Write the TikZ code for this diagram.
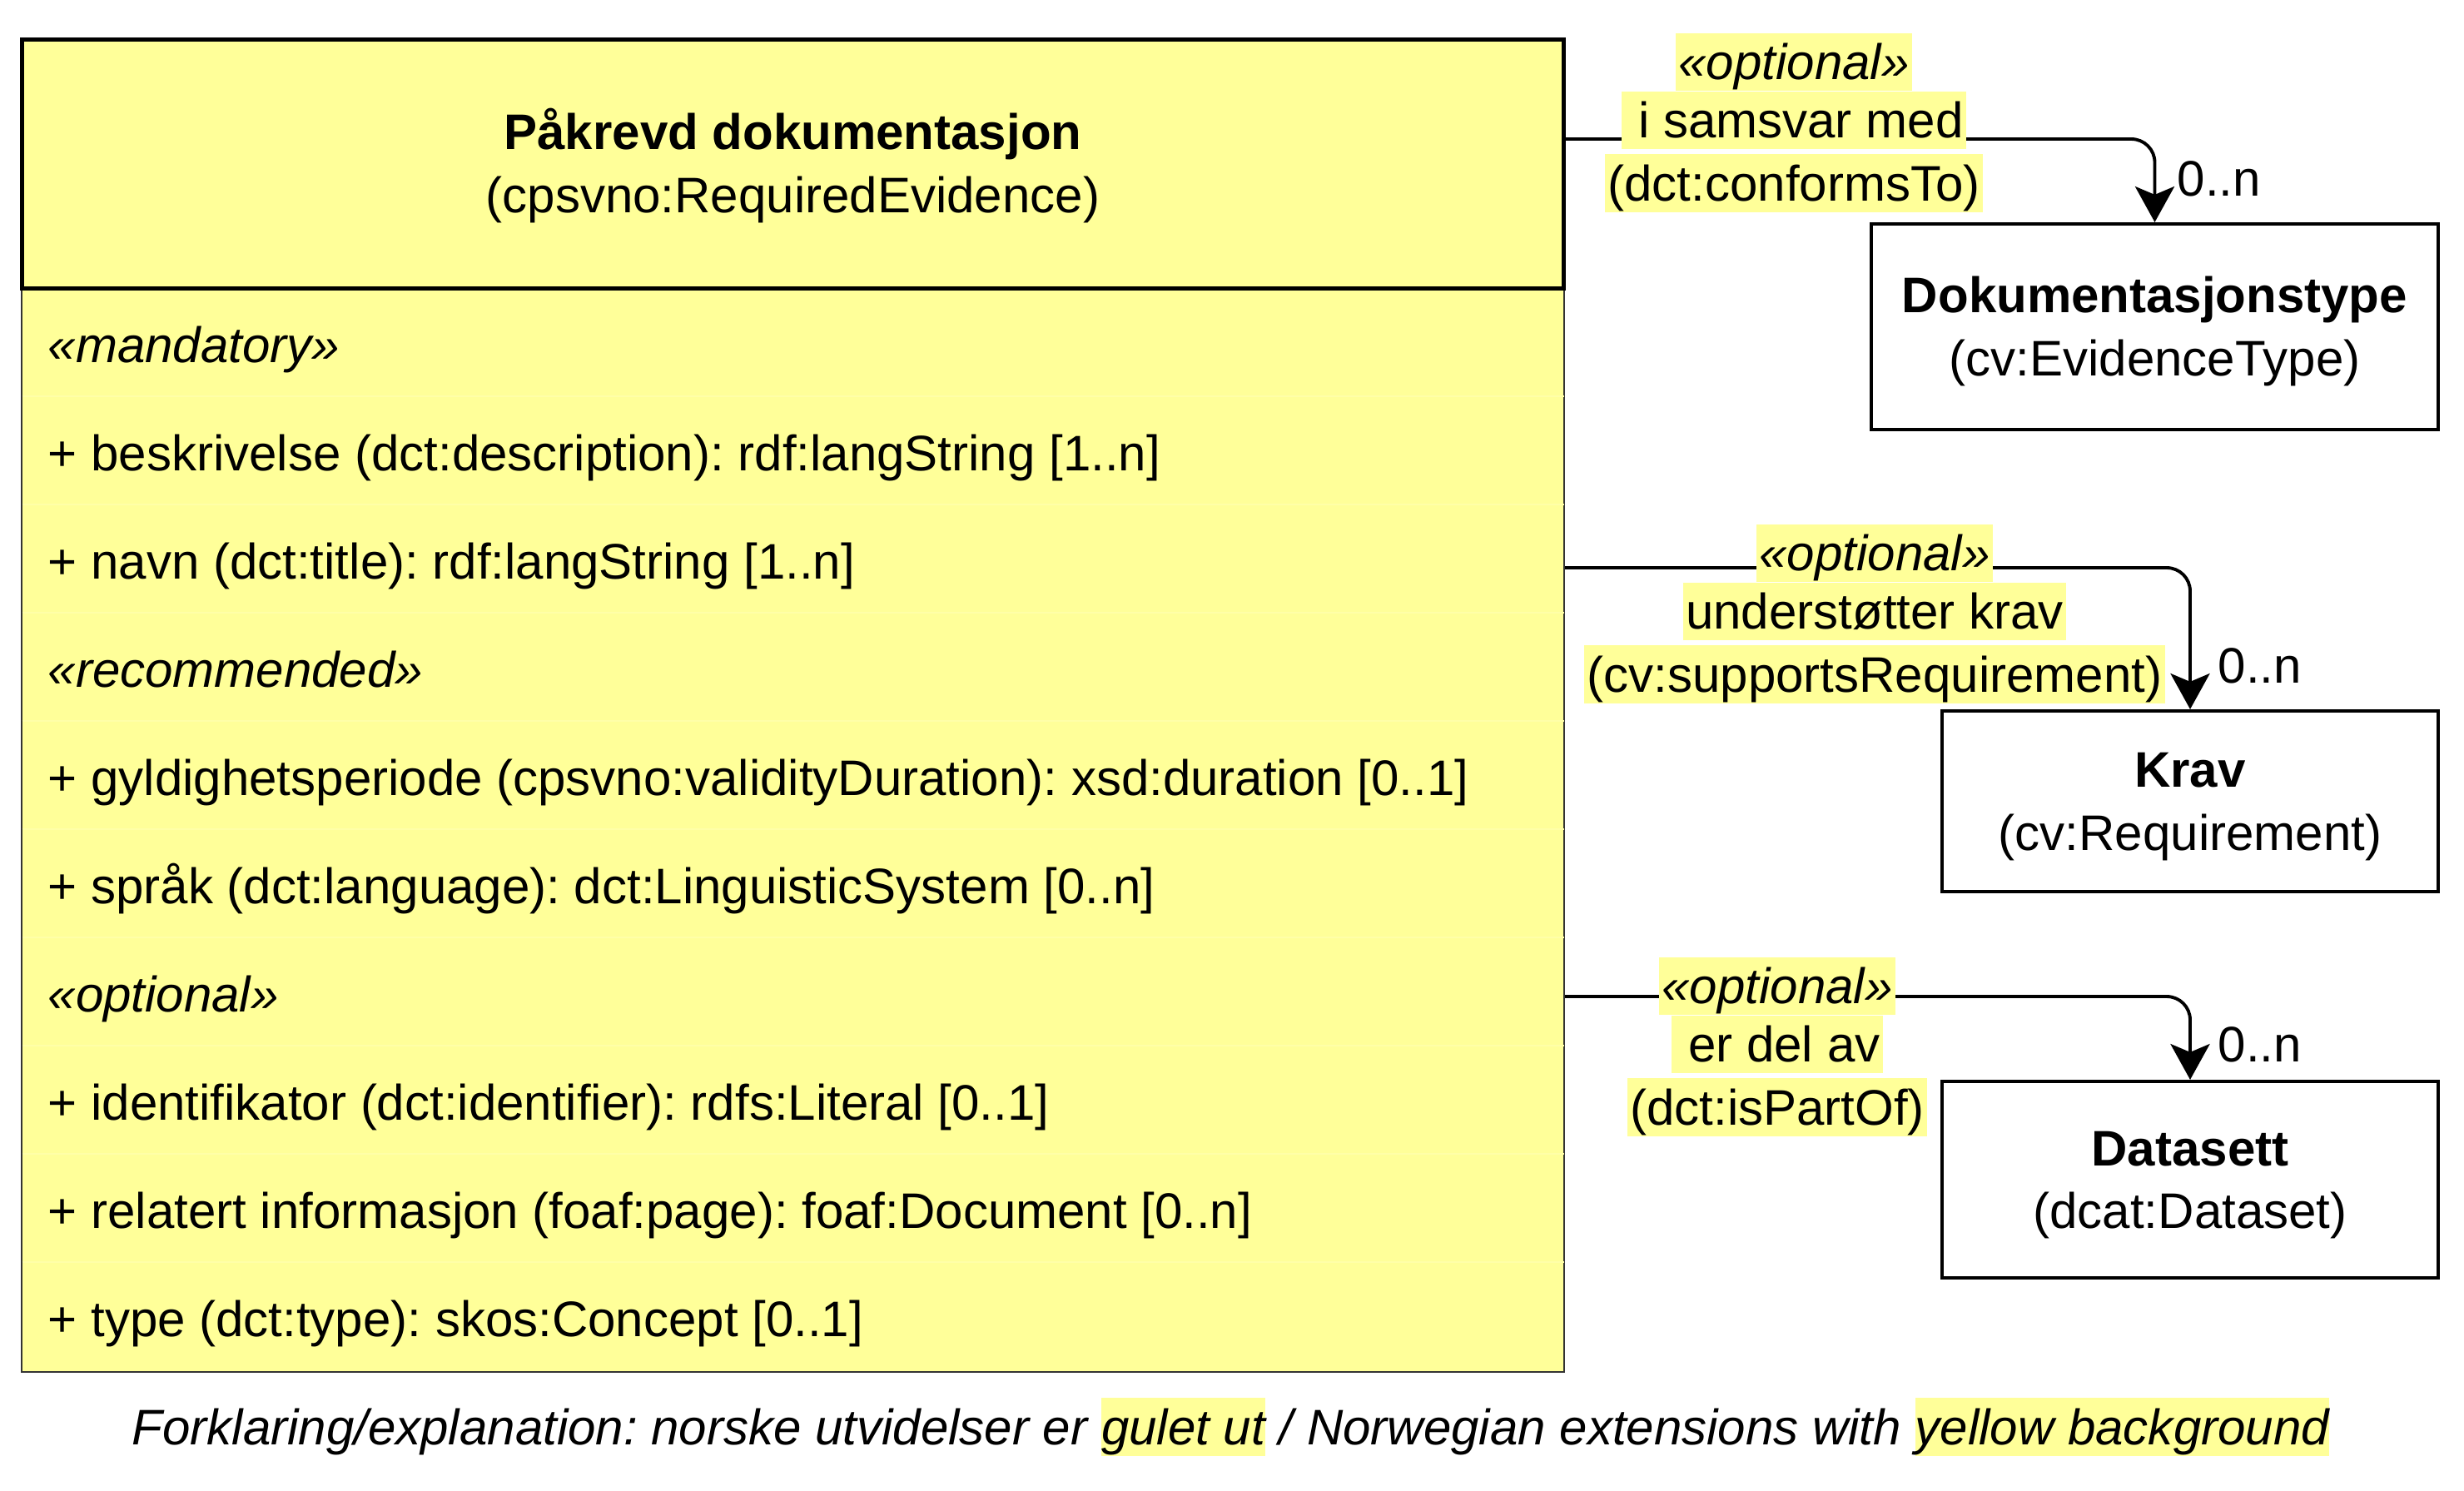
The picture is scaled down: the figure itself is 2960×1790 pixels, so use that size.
\documentclass[tikz,border=0pt]{standalone}
\usepackage{fontspec}
\setmainfont{Liberation Sans}
\usetikzlibrary{arrows.meta}

\definecolor{gulbg}{HTML}{FFFF99}
\newcommand{\gul}[1]{{\setlength{\fboxsep}{0pt}\colorbox{gulbg}{\rule[-3.9pt]{0pt}{19.8pt}#1}}}
\newcommand{\topstrut}{\rule{0pt}{15.45pt}}
\frenchspacing

\begin{document}
\begin{tikzpicture}[x=0.01cm, y=-0.01cm,
    every node/.style={font=\fontsize{17.07}{21.5}\selectfont, inner sep=0pt},
    classbox/.style={draw, line width=1.14pt, align=center},
    rolelabel/.style={fill=gulbg, text height=15.9pt, text depth=3.9pt, inner xsep=1pt},
    assoc/.style={line width=1.1pt, rounded corners=8pt, -{Stealth[length=12.2pt,width=13.4pt,inset=2.8pt]}},
    mult/.style={anchor=base west}]

    \useasboundingbox (0,0) rectangle (2960,1790);

    % attribute part of the class
    \node[draw=black!80, fill=gulbg, line width=0.7pt, minimum width=18.52cm, minimum height=13.015cm] (attrs) at (952.5,996.75) {};
    \foreach \k in {1,...,9}
        \draw[gulbg!85!white, line width=0.3pt] (26.5,{346+130*\k}) -- (1878.5,{346+130*\k});

    % class header
    \node[classbox, fill=gulbg, line width=1.42pt, minimum width=18.5cm, minimum height=2.985cm] (evidence) at (952.5,196.75)
        {\topstrut\textbf{Påkrevd dokumentasjon}\\(cpsvno:RequiredEvidence)};

    \foreach \t [count=\i from 0] in {
        {\textit{«mandatory»}},
        {+ beskrivelse (dct:description): rdf:langString [1..n]},
        {+ navn (dct:title): rdf:langString [1..n]},
        {\textit{«recommended»}},
        {+ gyldighetsperiode (cpsvno:validityDuration): xsd:duration [0..1]},
        {+ språk (dct:language): dct:LinguisticSystem [0..n]},
        {\textit{«optional»}},
        {+ identifikator (dct:identifier): rdfs:Literal [0..1]},
        {+ relatert informasjon (foaf:page): foaf:Document [0..n]},
        {+ type (dct:type): skos:Concept [0..1]}}
        \node[anchor=base west] (row\i) at (57,{435+130*\i}) {\t};

    % related classes
    \node[classbox, minimum width=6.81cm, minimum height=2.47cm] (evtype) at (2588.5,392.5)
        {\topstrut\textbf{Dokumentasjonstype}\\(cv:EvidenceType)};
    \node[classbox, minimum width=5.96cm, minimum height=2.17cm] (krav) at (2631,962.5)
        {\topstrut\textbf{Krav}\\(cv:Requirement)};
    \node[classbox, minimum width=5.96cm, minimum height=2.36cm] (dataset) at (2631,1417)
        {\topstrut\textbf{Datasett}\\(dcat:Dataset)};

    % associations
    \coordinate (from1) at (1880,167);
    \coordinate (from2) at (1880,682);
    \coordinate (from3) at (1880,1197);
    \draw[assoc] (from1) -| (evtype.north);
    \draw[assoc] (from2) -| (krav.north);
    \draw[assoc] (from3) -| (dataset.north);

    \node[rolelabel] (lab1a) at (2155,74.5) {\textit{«optional»}};
    \node[rolelabel] (lab1b) at (2155,144.5) {~i samsvar med};
    \node[rolelabel] (lab1c) at (2155,220) {(dct:conformsTo)~};

    \node[rolelabel] (lab2a) at (2252,664.5) {\textit{«optional»}};
    \node[rolelabel] (lab2b) at (2252,734.5) {understøtter krav};
    \node[rolelabel] (lab2c) at (2252,810) {(cv:supportsRequirement)};

    \node[rolelabel] (lab3a) at (2135,1184.5) {\textit{«optional»}};
    \node[rolelabel] (lab3b) at (2135,1254.5) {~er del av};
    \node[rolelabel] (lab3c) at (2135,1330) {(dct:isPartOf)~};

    \node[mult] (mult1) at (2615,235) {0..n};
    \node[mult] (mult2) at (2664,820) {0..n};
    \node[mult] (mult3) at (2664,1275) {0..n};

    % legend
    \node[anchor=base west, font=\fontsize{17.07}{21.5}\selectfont\itshape] (legend) at (158,1735)
        {Forklaring/explanation: norske utvidelser er \gul{gulet ut} / Norwegian extensions with \gul{yellow background}};

\end{tikzpicture}
\end{document}
